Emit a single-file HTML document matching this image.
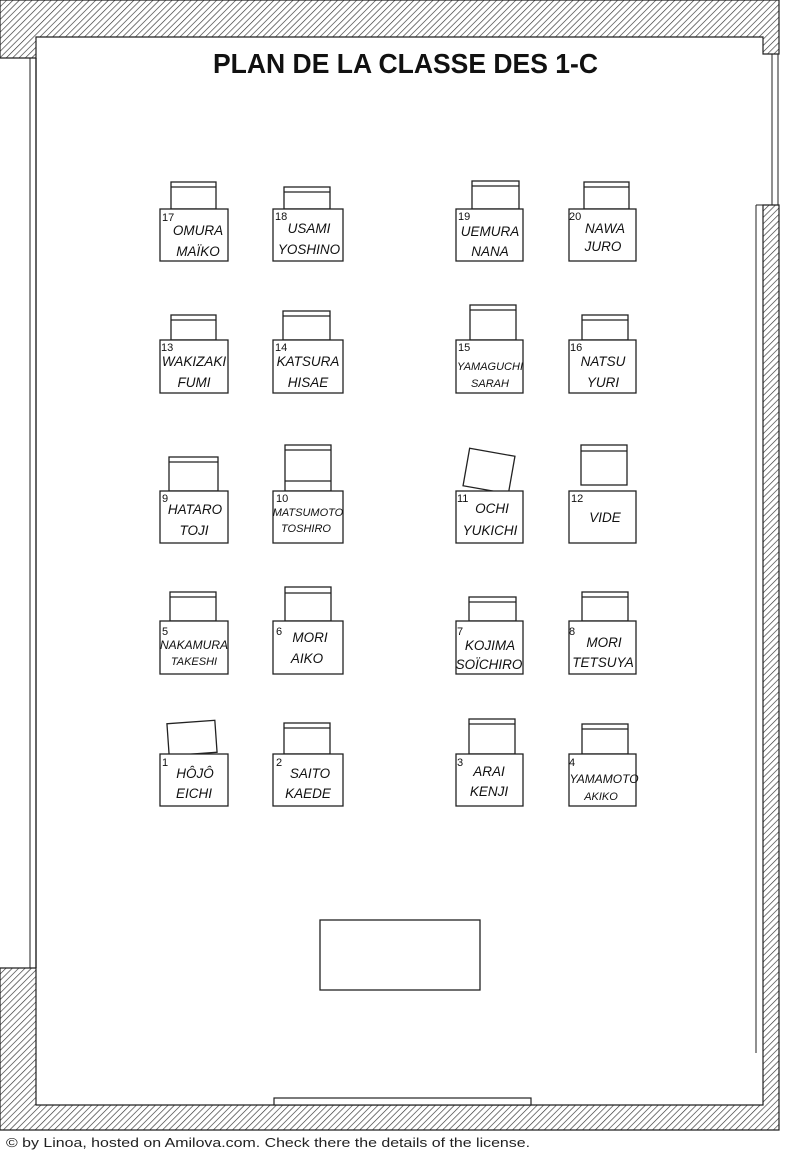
<!DOCTYPE html>
<html><head><meta charset="utf-8"><style>
html,body{margin:0;padding:0;background:#fff;width:800px;height:1153px;overflow:hidden}
svg{display:block}
.n{font-family:"Liberation Sans",sans-serif;font-style:italic;font-size:13.5px;fill:#111;text-anchor:middle}
.num{font-family:"Liberation Sans",sans-serif;font-size:11px;fill:#111}
</style></head><body>
<svg width="800" height="1153" viewBox="0 0 800 1153" xmlns="http://www.w3.org/2000/svg">
<defs>
<pattern id="h" width="4.5" height="4.5" patternUnits="userSpaceOnUse" patternTransform="rotate(45)">
<rect width="5" height="5" fill="#fff"/><line x1="0" y1="0" x2="0" y2="5" stroke="#333" stroke-width="1.3"/>
</pattern>
</defs>
<path d="M0 0 H779 V54 H763 V37 H36 V58 H0 Z" fill="url(#h)" stroke="#222" stroke-width="1.2"/>
<path d="M0 968 H36 V1105 H763 V205 H779 V1130 H0 Z" fill="url(#h)" stroke="#222" stroke-width="1.2"/>
<line x1="30" y1="58" x2="30" y2="968" stroke="#222" stroke-width="1"/>
<line x1="36" y1="58" x2="36" y2="968" stroke="#222" stroke-width="1.4"/>
<line x1="772" y1="54" x2="772" y2="205" stroke="#222" stroke-width="1"/>
<line x1="778" y1="54" x2="778" y2="205" stroke="#222" stroke-width="1"/>
<line x1="756" y1="205" x2="756" y2="1053" stroke="#222" stroke-width="1"/>
<line x1="756" y1="205" x2="763" y2="205" stroke="#222" stroke-width="1"/>
<rect x="320" y="920" width="160" height="70" fill="#fff" stroke="#222" stroke-width="1.3"/>
<rect x="274" y="1098" width="257" height="7" fill="#fff" stroke="#222" stroke-width="1.2"/>
<text x="213" y="73" textLength="385" lengthAdjust="spacingAndGlyphs" font-family="Liberation Sans Narrow,Liberation Sans,sans-serif" font-weight="bold" font-size="28" fill="#111">PLAN DE LA CLASSE DES 1-C</text>
<g fill="#fff" stroke="#222" stroke-width="1.3">
<rect x="171" y="182" width="45" height="27"/><line x1="171" y1="187" x2="216" y2="187"/>
<rect x="284" y="187" width="46" height="22"/><line x1="284" y1="192" x2="330" y2="192"/>
<rect x="472" y="181" width="47" height="28"/><line x1="472" y1="186" x2="519" y2="186"/>
<rect x="584" y="182" width="45" height="27"/><line x1="584" y1="187" x2="629" y2="187"/>
<rect x="171" y="315" width="45" height="25"/><line x1="171" y1="320" x2="216" y2="320"/>
<rect x="283" y="311" width="47" height="29"/><line x1="283" y1="316" x2="330" y2="316"/>
<rect x="470" y="305" width="46" height="35"/><line x1="470" y1="310" x2="516" y2="310"/>
<rect x="582" y="315" width="46" height="25"/><line x1="582" y1="320" x2="628" y2="320"/>
<rect x="169" y="457" width="49" height="34"/><line x1="169" y1="462" x2="218" y2="462"/>
<rect x="285" y="445" width="46" height="46"/><line x1="285" y1="450" x2="331" y2="450"/><line x1="285" y1="481" x2="331" y2="481"/>
<rect x="466" y="452" width="46" height="38" transform="rotate(10 489 471)"/>
<rect x="581" y="445" width="46" height="40"/><line x1="581" y1="451" x2="627" y2="451"/>
<rect x="170" y="592" width="46" height="29"/><line x1="170" y1="597" x2="216" y2="597"/>
<rect x="285" y="587" width="46" height="34"/><line x1="285" y1="593" x2="331" y2="593"/>
<rect x="469" y="597" width="47" height="24"/><line x1="469" y1="602" x2="516" y2="602"/>
<rect x="582" y="592" width="46" height="29"/><line x1="582" y1="597" x2="628" y2="597"/>
<rect x="168" y="722" width="48" height="32" transform="rotate(-4 192 738)"/>
<rect x="284" y="723" width="46" height="31"/><line x1="284" y1="728" x2="330" y2="728"/>
<rect x="469" y="719" width="46" height="35"/><line x1="469" y1="724" x2="515" y2="724"/>
<rect x="582" y="724" width="46" height="30"/><line x1="582" y1="729" x2="628" y2="729"/>
<rect x="160" y="209" width="68" height="52"/><rect x="273" y="209" width="70" height="52"/><rect x="456" y="209" width="67" height="52"/><rect x="569" y="209" width="67" height="52"/>
<rect x="160" y="340" width="68" height="53"/><rect x="273" y="340" width="70" height="53"/><rect x="456" y="340" width="67" height="53"/><rect x="569" y="340" width="67" height="53"/>
<rect x="160" y="491" width="68" height="52"/><rect x="273" y="491" width="70" height="52"/><rect x="456" y="491" width="67" height="52"/><rect x="569" y="491" width="67" height="52"/>
<rect x="160" y="621" width="68" height="53"/><rect x="273" y="621" width="70" height="53"/><rect x="456" y="621" width="67" height="53"/><rect x="569" y="621" width="67" height="53"/>
<rect x="160" y="754" width="68" height="52"/><rect x="273" y="754" width="70" height="52"/><rect x="456" y="754" width="67" height="52"/><rect x="569" y="754" width="67" height="52"/>
</g>
<g>
<text class="num" x="162" y="221">17</text><text class="n" x="198" y="235">OMURA</text><text class="n" x="198" y="256">MAÏKO</text>
<text class="num" x="275" y="220">18</text><text class="n" x="309" y="233">USAMI</text><text class="n" x="309" y="254">YOSHINO</text>
<text class="num" x="458" y="220">19</text><text class="n" x="490" y="236">UEMURA</text><text class="n" x="490" y="256">NANA</text>
<text class="num" x="569" y="220">20</text><text class="n" x="605" y="233">NAWA</text><text class="n" x="603" y="251">JURO</text>
<text class="num" x="161" y="351">13</text><text class="n" x="194" y="366">WAKIZAKI</text><text class="n" x="194" y="387">FUMI</text>
<text class="num" x="275" y="351">14</text><text class="n" x="308" y="366">KATSURA</text><text class="n" x="308" y="387">HISAE</text>
<text class="num" x="458" y="351">15</text><text class="n" x="490" y="370" style="font-size:11px">YAMAGUCHI</text><text class="n" x="490" y="387" style="font-size:11px">SARAH</text>
<text class="num" x="570" y="351">16</text><text class="n" x="603" y="366">NATSU</text><text class="n" x="603" y="387">YURI</text>
<text class="num" x="162" y="502">9</text><text class="n" x="195" y="514">HATARO</text><text class="n" x="194" y="535">TOJI</text>
<text class="num" x="276" y="502">10</text><text class="n" x="308" y="516" style="font-size:11px">MATSUMOTO</text><text class="n" x="306" y="532" style="font-size:11px">TOSHIRO</text>
<text class="num" x="457" y="502">11</text><text class="n" x="492" y="513">OCHI</text><text class="n" x="490" y="535">YUKICHI</text>
<text class="num" x="571" y="502">12</text><text class="n" x="605" y="522">VIDE</text>
<text class="num" x="162" y="635">5</text><text class="n" x="194" y="649" style="font-size:12px">NAKAMURA</text><text class="n" x="194" y="665" style="font-size:11px">TAKESHI</text>
<text class="num" x="276" y="635">6</text><text class="n" x="310" y="642">MORI</text><text class="n" x="307" y="663">AIKO</text>
<text class="num" x="457" y="635">7</text><text class="n" x="490" y="650">KOJIMA</text><text class="n" x="489" y="669">SOÏCHIRO</text>
<text class="num" x="569" y="635">8</text><text class="n" x="604" y="647">MORI</text><text class="n" x="603" y="667">TETSUYA</text>
<text class="num" x="162" y="766">1</text><text class="n" x="195" y="778">HÔJÔ</text><text class="n" x="194" y="798">EICHI</text>
<text class="num" x="276" y="766">2</text><text class="n" x="310" y="778">SAITO</text><text class="n" x="308" y="798">KAEDE</text>
<text class="num" x="457" y="766">3</text><text class="n" x="489" y="776">ARAI</text><text class="n" x="489" y="796">KENJI</text>
<text class="num" x="569" y="766">4</text><text class="n" x="604" y="783" style="font-size:12px">YAMAMOTO</text><text class="n" x="601" y="800" style="font-size:11px">AKIKO</text>
</g>
<text x="6" y="1147" textLength="524" lengthAdjust="spacingAndGlyphs" font-family="Liberation Sans Narrow,Liberation Sans,sans-serif" font-size="13" fill="#222">© by Linoa, hosted on Amilova.com. Check there the details of the license.</text>
</svg>
</body></html>
